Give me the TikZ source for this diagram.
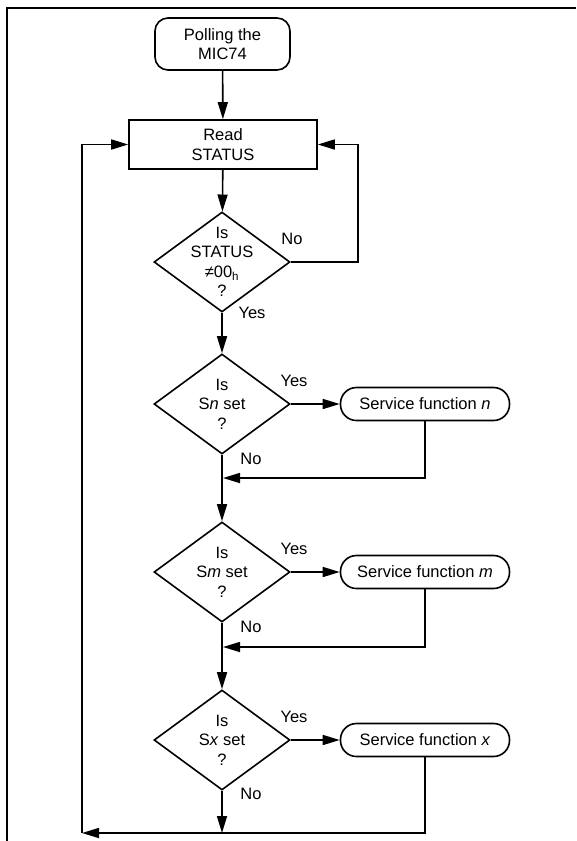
\documentclass[tikz,border=0pt]{standalone}
\usepackage{fontspec}
\setmainfont{Liberation Sans}
\usetikzlibrary{shapes.geometric,arrows.meta}
\begin{document}
\begin{tikzpicture}[x=1pt,y=-1pt,
  font=\fontsize{16.5}{19.5}\selectfont,
  line width=1.6pt,
  arr/.style={-{Triangle[length=17pt,width=10pt]}},
  startbox/.style={draw, rounded corners=13pt, minimum width=135pt, minimum height=52pt, align=center, inner sep=0pt},
  procbox/.style={draw, minimum width=188pt, minimum height=49pt, align=center, inner sep=0pt},
  decision/.style={draw, diamond, minimum width=136pt, minimum height=100pt, inner sep=0pt},
  svcbox/.style={draw, rounded corners=16pt, minimum width=169pt, minimum height=33pt, inner sep=0pt},
  lbl/.style={inner sep=0pt},
  dtext/.style={align=center, inner sep=0pt}]
\useasboundingbox (0,0) rectangle (576,841);
% frame
\draw[line width=2pt] (7,841) -- (7,7.5) -- (576,7.5);
% nodes
\node[startbox] (start) at (222.5,44) {Polling the\\MIC74};
\node[procbox] (read) at (223,144.5) {Read\\STATUS};
\node[decision, label={[dtext]center:Is\\STATUS\\≠00\textsubscript{h}\\?}] (d1) at (222,262) {};
\node[decision, label={[dtext]center:Is\\S\textit{n} set\\?}] (d2) at (222,404) {};
\node[decision, label={[dtext]center:Is\\S\textit{m} set\\?}] (d3) at (222,572) {};
\node[decision, label={[dtext]center:Is\\S\textit{x} set\\?}] (d4) at (222,740) {};
\node[svcbox] (s1) at (425,404) {Service function \textit{n}};
\node[svcbox] (s2) at (425,572) {Service function \textit{m}};
\node[svcbox] (s3) at (425,740) {Service function \textit{x}};
% labels
\node[lbl] (no1) at (292,239) {No};
\node[lbl] (yes1) at (252,313) {Yes};
\node[lbl] (yes2) at (294,381) {Yes};
\node[lbl] (no2) at (251,459) {No};
\node[lbl] (yes3) at (294,549) {Yes};
\node[lbl] (no3) at (251,627) {No};
\node[lbl] (yes4) at (294,717) {Yes};
\node[lbl] (no4) at (251,794) {No};
% coordinates
\coordinate (r1) at (223,478);
\coordinate (r2) at (223,647);
\coordinate (cb) at (222,833);
\coordinate (cl) at (82,833);
% connectors
\draw[arr] (start) -- (read);
\draw[arr] (read) -- (d1);
\draw[arr] (d1.east) -- ++(67,0) |- (read.east);
\draw[arr] (d1.south) -- (d2.north);
\draw[arr] (d2.east) -- (s1.west);
\draw[arr] (s1.south) |- (r1);
\draw[arr] (d2.south) -- (d3.north);
\draw[arr] (d3.east) -- (s2.west);
\draw[arr] (s2.south) |- (r2);
\draw[arr] (d3.south) -- (d4.north);
\draw[arr] (d4.east) -- (s3.west);
\draw[arr] (d4.south) -- (cb);
\draw[arr] (s3.south) |- (cl);
\draw[arr] (cl) |- (read.west);
\end{tikzpicture}
\end{document}
